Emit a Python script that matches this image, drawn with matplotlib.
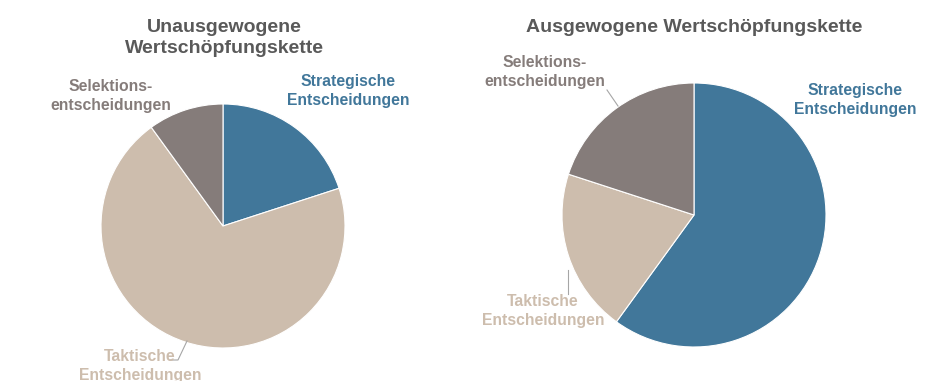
import matplotlib
matplotlib.use('Agg')
import matplotlib.pyplot as plt

plt.rcParams['font.family'] = ['Liberation Sans', 'DejaVu Sans']
plt.rcParams['font.weight'] = 'bold'

categories = ['Strategische\nEntscheidungen', 'Taktische\nEntscheidungen', 'Selektions-\nentscheidungen']
unbalanced = [20, 70, 10]
balanced = [60, 20, 20]
colors = ['#41779A', '#CDBDAD', '#857C7A']
title_color = '#595959'

W, H = 934, 381
fig = plt.figure(figsize=(W / 100, H / 100), dpi=100)

def px(x, y):
    # pixel coords (top-left origin) -> figure fraction
    return x / W, 1 - y / H

def pie_axes(cx, cy, r, values):
    ax = fig.add_axes([(cx - r) / W, (H - cy - r) / H, 2 * r / W, 2 * r / H])
    ax.pie(values, colors=colors, startangle=90, counterclock=False, radius=1,
           wedgeprops=dict(edgecolor='white', linewidth=0.8))
    ax.set_xlim(-1, 1)
    ax.set_ylim(-1, 1)
    ax.set_aspect('equal')
    ax.axis('off')
    return ax

ax1 = pie_axes(223, 226, 122, unbalanced)
ax2 = pie_axes(694, 215, 132, balanced)

# titles
fig.text(*px(224, 38), 'Unausgewogene\nWertschöpfungskette', ha='center', va='center',
         fontsize=14, color=title_color, linespacing=1.3)
fig.text(*px(694, 27), 'Ausgewogene Wertschöpfungskette', ha='center', va='center',
         fontsize=14, color=title_color)

# labels left
lab = dict(ha='center', va='center', fontsize=11.3, linespacing=1.3)
fig.text(*px(348, 91), categories[0], color=colors[0], **lab)
fig.text(*px(111, 96), categories[2], color=colors[2], **lab)
fig.text(*px(140, 366), categories[1], color=colors[1], **lab)

# labels right
fig.text(*px(855, 100), categories[0], color=colors[0], **lab)
fig.text(*px(545, 72), categories[2], color=colors[2], **lab)
fig.text(*px(543, 311), categories[1], color=colors[1], **lab)

# leader lines
def leader(pts):
    xs = [p[0] / W for p in pts]
    ys = [1 - p[1] / H for p in pts]
    fig.add_artist(plt.Line2D(xs, ys, color='#A6A6A6', linewidth=0.8))

leader([(187, 341), (178, 360), (170, 360)])
leader([(607, 90), (618, 106)])
leader([(568, 270), (568, 294)])

fig.savefig('out.png', dpi=100)
